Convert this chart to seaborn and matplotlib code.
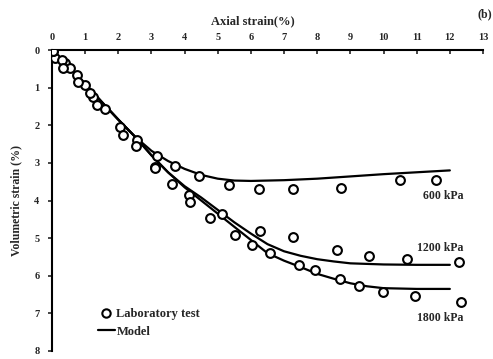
import matplotlib
matplotlib.use("Agg")
import matplotlib.pyplot as plt
import seaborn as sns
import pandas as pd
from matplotlib.lines import Line2D

# ---- data ----
lab600_x = [0, 0.09, 0.39, 0.74, 1.0, 1.25, 1.6, 2.05, 2.55, 3.16, 3.71, 4.44, 5.33, 6.24, 7.27, 8.72, 10.5, 11.58]
lab600_y = [0, 0.22, 0.35, 0.66, 0.93, 1.24, 1.58, 2.04, 2.39, 2.83, 3.07, 3.34, 3.59, 3.69, 3.69, 3.66, 3.45, 3.45]
lab1200_x = [0.02, 0.29, 0.54, 0.79, 1.15, 1.35, 2.13, 3.11, 3.63, 4.14, 5.12, 6.27, 7.28, 8.6, 9.57, 10.7, 12.29]
lab1200_y = [0.02, 0.27, 0.49, 0.84, 1.15, 1.46, 2.26, 3.1, 3.57, 3.85, 4.36, 4.82, 4.98, 5.31, 5.47, 5.55, 5.64]
lab1800_x = [0.04, 0.34, 2.53, 3.12, 4.16, 4.77, 5.52, 6.02, 6.58, 7.46, 7.93, 8.69, 9.27, 9.99, 10.95, 12.33]
lab1800_y = [0.03, 0.49, 2.54, 3.14, 4.03, 4.47, 4.91, 5.18, 5.4, 5.71, 5.86, 6.08, 6.27, 6.44, 6.55, 6.71]

model600_x = [0, 0.5, 1, 1.5, 2, 2.5, 3, 3.5, 4, 4.5, 5, 5.5, 6, 7, 8, 9, 10, 11, 12]
model600_y = [0, 0.45, 0.9, 1.38, 1.85, 2.3, 2.68, 2.95, 3.16, 3.32, 3.42, 3.47, 3.48, 3.46, 3.42, 3.36, 3.3, 3.25, 3.2]
model1200_x = [0, 0.5, 1, 1.5, 2, 2.5, 3, 3.5, 4, 4.5, 5, 5.5, 6, 6.5, 7, 7.5, 8, 8.5, 9, 10, 11, 12]
model1200_y = [0, 0.45, 0.9, 1.38, 1.85, 2.3, 2.8, 3.25, 3.62, 3.92, 4.25, 4.58, 4.88, 5.16, 5.35, 5.47, 5.56, 5.62, 5.67, 5.7, 5.71, 5.71]
model1800_x = [0, 0.5, 1, 1.5, 2, 2.5, 3, 3.5, 4, 4.5, 5, 5.5, 6, 6.5, 7, 7.5, 8, 8.5, 9, 9.5, 10, 11, 12]
model1800_y = [0, 0.45, 0.9, 1.38, 1.85, 2.3, 2.8, 3.25, 3.65, 4.0, 4.35, 4.7, 5.05, 5.4, 5.6, 5.77, 5.95, 6.08, 6.2, 6.28, 6.33, 6.35, 6.35]

series_labels = ["600 kPa", "1200 kPa", "1800 kPa"]
label_x = [12.4, 12.4, 12.4]
label_y = [3.88, 5.26, 7.12]

x_ticks = list(range(0, 14))
y_ticks = list(range(0, 9))

# ---- plot ----
sns.set_style("white")
plt.rcParams['font.family'] = ['Liberation Serif', 'DejaVu Serif']
plt.rcParams['font.weight'] = 'bold'

fig = plt.figure(figsize=(4.93, 3.59), dpi=100)
ax = fig.add_axes([52/493, 1 - 351/359, 431/493, 301/359])

for mx, my in [(model600_x, model600_y), (model1200_x, model1200_y), (model1800_x, model1800_y)]:
    sns.lineplot(x=mx, y=my, ax=ax, color="black", linewidth=1.6, sort=False, estimator=None)

lab = pd.DataFrame({
    "x": lab600_x + lab1200_x + lab1800_x,
    "y": lab600_y + lab1200_y + lab1800_y,
})
sns.scatterplot(data=lab, x="x", y="y", ax=ax, marker="o", s=40,
                facecolor="white", edgecolor="black", linewidth=1.5, zorder=3)

for t, lx, ly in zip(series_labels, label_x, label_y):
    ax.text(lx, ly, t, ha="right", va="center", fontsize=8.5, fontweight="bold")

ax.set_xlim(0, 13)
ax.set_ylim(8, 0)
ax.set_xticks(x_ticks)
ax.set_yticks(y_ticks)
ax.xaxis.tick_top()
ax.xaxis.set_label_position("top")
ax.set_xlabel("Axial strain(%)", fontsize=9, fontweight="bold")
ax.xaxis.set_label_coords(0.466, 1.085)
ax.set_ylabel("Volumetric strain (%)", fontsize=8.5, fontweight="bold")
ax.yaxis.set_label_coords(-0.07, 0.5)
ax.tick_params(axis="x", direction="in", length=3, width=1.2, labelsize=7.5, pad=6)
ax.tick_params(axis="y", direction="out", length=3, width=1.2, labelsize=7.5, pad=6, left=True)
for lbl in ax.get_xticklabels() + ax.get_yticklabels():
    lbl.set_fontweight("bold")

for s in ["right", "bottom"]:
    ax.spines[s].set_visible(False)
for s in ["top", "left"]:
    ax.spines[s].set_visible(True)
    ax.spines[s].set_linewidth(1.5)
    ax.spines[s].set_color("black")

handles = [
    Line2D([], [], marker="o", linestyle="none", markerfacecolor="white",
           markeredgecolor="black", markeredgewidth=1.5, markersize=6),
    Line2D([], [], color="black", linewidth=1.6),
]
ax.legend(handles, ["Laboratory test", "Model"], loc="upper left",
          bbox_to_anchor=(0.08, 0.18), frameon=False,
          handlelength=1.4, handletextpad=0.1, labelspacing=0.45,
          prop={"weight": "bold", "size": 9})

fig.text(492/493, 1 - 14/359, "(b)", fontsize=8.5, fontweight="bold", ha="right", va="center")

fig.savefig("out.png", dpi=100)
